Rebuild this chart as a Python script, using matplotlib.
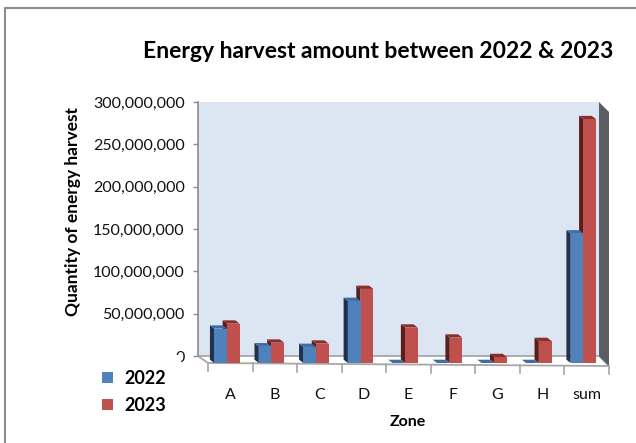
import matplotlib
matplotlib.use("Agg")
import matplotlib.pyplot as plt
import numpy as np
from matplotlib.patches import Polygon, Patch
from matplotlib.lines import Line2D
from matplotlib.transforms import ScaledTranslation
from matplotlib.ticker import FuncFormatter

# ---------------- data ----------------
categories = ["A", "B", "C", "D", "E", "F", "G", "H", "sum"]
series_names = ["2022", "2023"]
values_2022 = [40.6e6, 19.7e6, 19.0e6, 73.3e6, 0, 0, 0, 0, 153e6]
values_2023 = [46.5e6, 24.0e6, 22.9e6, 87.5e6, 41.8e6, 30.0e6, 7.0e6, 26.0e6, 288e6]
y_ticks = [0, 50e6, 100e6, 150e6, 200e6, 250e6, 300e6]
title = "Energy harvest amount between 2022 & 2023"
x_label = "Zone"
y_label = "Quantity of energy harvest"

# ---------------- style ----------------
plt.rcParams['font.family'] = ['Lato', 'DejaVu Sans']
W, H = 636, 443
DPI = 100
fig = plt.figure(figsize=(W / DPI, H / DPI), dpi=DPI)
fig.patch.set_facecolor('white')

def fx(x):
    return x / W

def fy(y):
    return 1 - y / H

# back wall
L, R, T, B = 198, 599, 102, 356
ax = fig.add_axes([fx(L), fy(B), fx(R) - fx(L), fy(T) - fy(B)])
n = len(categories)
ax.set_xlim(0, n)
ax.set_ylim(0, 300e6)
ax.set_facecolor('#DCE6F2')
for s in ['top', 'right', 'bottom']:
    ax.spines[s].set_visible(False)
ax.spines['left'].set_color('#8C8C8C')
ax.spines['left'].set_linewidth(1.2)

gray = '#8C8C8C'
# front-plane offset (px)
DX, DY = 10, 7
ppx = (R - L) / n
ppy = (B - T) / 300e6
front = ax.transData + ScaledTranslation(DX / DPI, -DY / DPI, fig.dpi_scale_trans)

# y axis ticks
ax.set_yticks(y_ticks)
ax.yaxis.set_major_formatter(FuncFormatter(lambda v, p: f"{v:,.0f}"))
ax.tick_params(axis='y', direction='out', length=3.6, width=1.0, color=gray,
               labelsize=11.5, pad=6.0, labelcolor='#111111')

# category labels (front plane)
ax.set_xticks(np.arange(n) + 0.5 + DX / ppx)
ax.set_xticklabels(categories)
ax.tick_params(axis='x', length=0, pad=23, labelsize=11.5, labelcolor='#111111')

# floor
floor = Polygon([(fx(L), fy(B)), (fx(R), fy(B)), (fx(R + DX), fy(B + DY + 3)),
                 (fx(L + DX), fy(B + DY))], closed=True, transform=fig.transFigure,
                facecolor='white', edgecolor='#A6A6A6', lw=1.3, clip_on=False, zorder=1)
ax.add_patch(floor)
# right wall
wall = Polygon([(fx(R), fy(T)), (fx(R + DX), fy(T + DY + 3)), (fx(R + DX), fy(B + DY + 3)),
                (fx(R), fy(B))], closed=True, transform=fig.transFigure,
               facecolor='#5A5E63', edgecolor='none', clip_on=False, zorder=1.2)
ax.add_patch(wall)
# x tick marks on front edge
for i in range(n + 1):
    xp = L + DX + i * ppx
    yb = B + DY + 3 * i / n
    ax.add_line(Line2D([fx(xp), fx(xp)], [fy(yb), fy(yb + 8)], transform=fig.transFigure,
                       color='#A6A6A6', lw=1.2, clip_on=False))

# bars (pseudo 3-D)
bw = 0.285
offs = [0.2825, 0.5675]
ddx = 4.3 / ppx
ddy = 3.3 / ppy
styles = [
    dict(front='#4F81BD', side='#1F3350', top='#3F6DA6'),
    dict(front='#C0504D', side='#5A1E1C', top='#8B2E2B'),
]
series = [values_2022, values_2023]
for si in [1, 0]:
    vals = series[si]
    st = styles[si]
    xs = np.arange(n) + offs[si]
    for x, h in zip(xs, vals):
        xl, xr = x - bw / 2, x + bw / 2
        side = Polygon([(xl, 0), (xl, h), (xl - ddx, h + ddy), (xl - ddx, ddy)],
                       closed=True, transform=front, facecolor=st['side'],
                       edgecolor='none', clip_on=False, zorder=3)
        top = Polygon([(xl, h), (xr, h), (xr - ddx, h + ddy), (xl - ddx, h + ddy)],
                      closed=True, transform=front, facecolor=st['top'],
                      edgecolor='none', clip_on=False, zorder=3)
        ax.add_patch(side)
        ax.add_patch(top)
    ax.bar(xs, vals, width=bw, color=st['front'], transform=front, clip_on=False,
           zorder=3, linewidth=0)

# legend
handles = [Patch(facecolor=styles[0]['front'], edgecolor='none'),
           Patch(facecolor=styles[1]['front'], edgecolor='none')]
leg = ax.legend(handles, series_names, loc='upper left',
                bbox_to_anchor=(fx(87), fy(355)), bbox_transform=fig.transFigure,
                frameon=True, fancybox=False, facecolor='white', edgecolor='none',
                framealpha=1.0, prop=dict(family=['Lato', 'DejaVu Sans'], weight='bold', size=13),
                handlelength=0.6, handleheight=0.6, handletextpad=0.62,
                labelspacing=0.55, borderpad=0.83, borderaxespad=0)

# texts
fig.text(fx(378), fy(52), title, ha='center', va='center', fontsize=16.5,
         fontweight='bold', color='black')
fig.text(fx(73), fy(212), y_label, ha='center', va='center', rotation=90,
         fontsize=12.5, fontweight='bold', color='black')
fig.text(fx(408), fy(422), x_label, ha='center', va='center', fontsize=11.5,
         fontweight='bold', color='black')

# outer frame
fig.add_artist(Line2D([fx(5), fx(5), 1.0], [0, fy(8), fy(8)], transform=fig.transFigure,
                      color='#8C8C8C', lw=1.5))

fig.savefig('out.png', dpi=DPI)
